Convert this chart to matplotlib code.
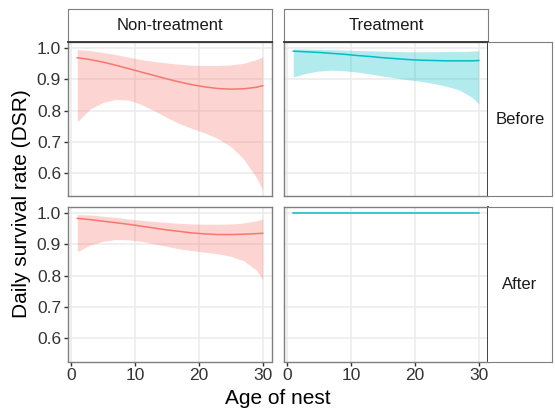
import numpy as np
import matplotlib
matplotlib.use('Agg')
import matplotlib.pyplot as plt

plt.rcParams['font.family'] = ['Liberation Sans', 'DejaVu Sans']

# age of nest where values were read
age = [1, 3, 5, 7, 9, 11, 13, 15, 17, 19, 21, 23, 25, 27, 29, 30]

# non-treatment, before
nt_before = [0.970, 0.964, 0.956, 0.946, 0.935, 0.924, 0.913, 0.902,
             0.892, 0.883, 0.876, 0.871, 0.869, 0.870, 0.875, 0.880]
nt_before_hi = [0.996, 0.993, 0.987, 0.980, 0.972, 0.964, 0.958, 0.953,
                0.949, 0.946, 0.945, 0.945, 0.947, 0.952, 0.964, 0.973]
nt_before_lo = [0.764, 0.805, 0.826, 0.836, 0.834, 0.820, 0.800, 0.778,
                0.758, 0.742, 0.728, 0.710, 0.685, 0.645, 0.585, 0.545]

# treatment, before
tr_before = [0.991, 0.989, 0.987, 0.984, 0.981, 0.977, 0.974, 0.970,
             0.967, 0.964, 0.962, 0.961, 0.960, 0.960, 0.960, 0.961]
tr_before_hi = [0.998, 0.998, 0.997, 0.996, 0.995, 0.993, 0.992, 0.991,
                0.990, 0.989, 0.989, 0.989, 0.990, 0.990, 0.991, 0.992]
tr_before_lo = [0.908, 0.920, 0.927, 0.930, 0.928, 0.924, 0.918, 0.911,
                0.905, 0.899, 0.894, 0.887, 0.878, 0.866, 0.842, 0.822]

# non-treatment, after
nt_after = [0.984, 0.980, 0.975, 0.970, 0.965, 0.959, 0.953, 0.947,
            0.942, 0.937, 0.934, 0.932, 0.932, 0.933, 0.935, 0.936]
nt_after_hi = [0.996, 0.995, 0.991, 0.987, 0.982, 0.978, 0.974, 0.971,
               0.968, 0.966, 0.965, 0.965, 0.966, 0.969, 0.976, 0.982]
nt_after_lo = [0.877, 0.898, 0.910, 0.916, 0.915, 0.910, 0.902, 0.894,
               0.886, 0.880, 0.875, 0.870, 0.862, 0.848, 0.818, 0.787]

# treatment, after (no nest losses)
tr_after = [1.0] * len(age)

cols = ['Non-treatment', 'Treatment']
rows = ['Before', 'After']

red = '#F8766D'
teal = '#00BFC4'
border = '#7F7F7F'

fig = plt.figure(figsize=(5.55, 4.12), dpi=100)
W, H = 555., 412.

lefts = [68, 284]
tops = [42, 207]
pw, ph = 204, 154.5

panels = {
    (0, 0): (nt_before, nt_before_lo, nt_before_hi, red),
    (0, 1): (tr_before, tr_before_lo, tr_before_hi, teal),
    (1, 0): (nt_after, nt_after_lo, nt_after_hi, red),
    (1, 1): (tr_after, None, None, teal),
}

for (r, c), (m, lo, hi, col) in panels.items():
    ax = fig.add_axes([lefts[c] / W, 1 - (tops[r] + ph) / H, pw / W, ph / H])
    if lo is not None:
        ax.fill_between(age, lo, hi, color=col, alpha=0.3, lw=0)
    ax.plot(age, m, color=col, lw=1.1)
    ax.set_xlim(-0.45, 31.45)
    ax.set_ylim(0.524, 1.0205)
    ax.set_xticks([0, 10, 20, 30])
    ax.set_yticks([0.6, 0.7, 0.8, 0.9, 1.0])
    ax.grid(True, color='#EBEBEB', lw=1.1)
    ax.set_axisbelow(True)
    for s in ax.spines.values():
        s.set_color(border)
        s.set_linewidth(1.0)
    if c == 1:
        ax.spines['right'].set_color('#333333')
        ax.spines['right'].set_linewidth(1.3)
    ax.tick_params(colors='#333333', labelcolor='#333333', labelsize=12.5,
                   length=3, width=1, pad=2)
    if c == 0:
        ax.set_yticklabels(['0.6', '0.7', '0.8', '0.9', '1.0'])
    else:
        ax.tick_params(axis='y', left=False, labelleft=False)
    if r == 1:
        ax.set_xticklabels(['0', '10', '20', '30'])
    else:
        ax.tick_params(axis='x', bottom=False, labelbottom=False)

# top strips
for c in range(2):
    sax = fig.add_axes([lefts[c] / W, 1 - 42 / H, pw / W, 33 / H])
    sax.set_xticks([])
    sax.set_yticks([])
    for s in sax.spines.values():
        s.set_color(border)
    sax.spines['bottom'].set_color('#333333')
    sax.spines['bottom'].set_linewidth(1.3)
    sax.text(0.5, 0.5, cols[c], ha='center', va='center', fontsize=12,
             color='#1A1A1A', transform=sax.transAxes)

# right strips
for r in range(2):
    sax = fig.add_axes([488 / W, 1 - (tops[r] + ph) / H, 64 / W, ph / H])
    sax.set_xticks([])
    sax.set_yticks([])
    for s in sax.spines.values():
        s.set_color(border)
    sax.spines['left'].set_visible(False)
    sax.text(0.5, 0.5, rows[r], ha='center', va='center', fontsize=12,
             color='#1A1A1A', transform=sax.transAxes)

fig.text(278 / W, 1 - 399 / H, 'Age of nest', ha='center', va='center',
         fontsize=15, color='black')
fig.text(22 / W, 1 - 204 / H, 'Daily survival rate (DSR)', ha='center',
         va='center', rotation=90, fontsize=15, color='black')

fig.savefig('out.png', dpi=100)
